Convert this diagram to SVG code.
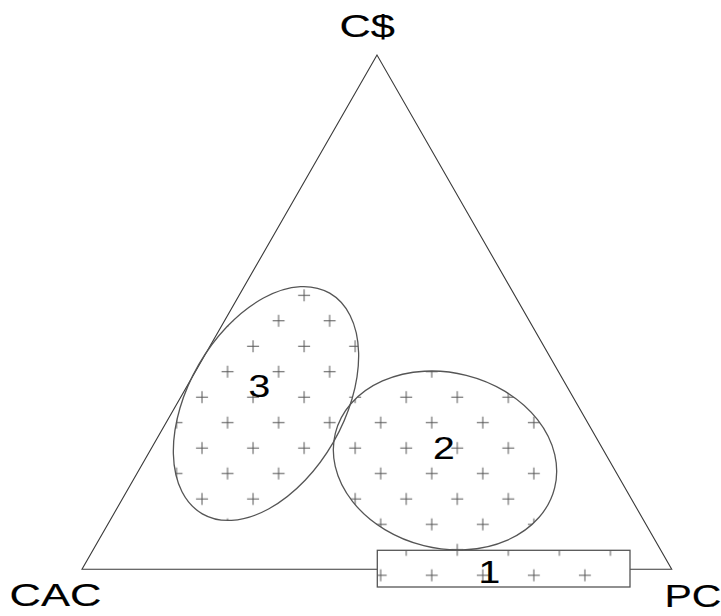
<svg xmlns="http://www.w3.org/2000/svg" width="721" height="616" viewBox="0 0 721 616">
  <style>
    .frame { fill: none; stroke: #3a3a3a; stroke-width: 1.1; }
    .outline { fill: none; stroke: #555; stroke-width: 1.3; }
    .hatch { fill: url(#plus); stroke: none; }
    .lbl { font-family: "Liberation Sans", Arial, sans-serif; font-size: 32px; fill: #000; stroke: #000; stroke-width: 0.15; }
  </style>
  <defs>
    <!-- staggered grid of plus marks, one lattice shared by every region -->
    <pattern id="plus" patternUnits="userSpaceOnUse" x="367.94" y="562.58" width="51.05" height="50.9">
      <g stroke="#555" stroke-width="1" fill="none">
        <path d="M6.76 12.72h12M12.76 6.72v12"/>
        <path d="M32.29 38.17h12M38.29 32.17v12"/>
      </g>
    </pattern>
    <clipPath id="clip-3">
      <ellipse cx="266" cy="403.5" rx="127.4" ry="77.7" transform="rotate(-60 266 403.5)"/>
    </clipPath>
    <clipPath id="clip-2">
      <ellipse cx="445" cy="460.5" rx="113" ry="87.8" transform="rotate(14 445 460.5)"/>
    </clipPath>
  </defs>

  <rect width="721" height="616" fill="#fff"/>

  <!-- ternary frame -->
  <g id="triangle">
    <polygon class="frame" points="377,55 82,569.3 671.7,569.3"/>
  </g>

  <!-- composition regions -->
  <g id="region-3">
    <rect class="hatch" x="160" y="270" width="215" height="270" clip-path="url(#clip-3)"/>
    <ellipse class="outline" cx="266" cy="403.5" rx="127.4" ry="77.7" transform="rotate(-60 266 403.5)"/>
    <text class="lbl" x="248.4" y="396.5" textLength="21.7" lengthAdjust="spacingAndGlyphs">3</text>
  </g>

  <g id="region-2">
    <rect class="hatch" x="320" y="360" width="250" height="200" clip-path="url(#clip-2)"/>
    <ellipse class="outline" cx="445" cy="460.5" rx="113" ry="87.8" transform="rotate(14 445 460.5)"/>
    <text class="lbl" x="433" y="459.3" textLength="21.7" lengthAdjust="spacingAndGlyphs">2</text>
  </g>

  <g id="region-1">
    <rect x="377.3" y="550.3" width="252.7" height="36.7" fill="#fff"/>
    <rect class="hatch" x="377.3" y="550.3" width="252.7" height="36.7"/>
    <rect class="outline" x="377.3" y="550.3" width="252.7" height="36.7"/>
    <text class="lbl" x="478.6" y="582.6" textLength="21.7" lengthAdjust="spacingAndGlyphs">1</text>
  </g>

  <!-- vertex labels -->
  <g id="vertex-labels">
    <text class="lbl" x="339.5" y="37.3" textLength="55.5" lengthAdjust="spacingAndGlyphs">C$</text>
    <text class="lbl" x="9.5" y="605.5" textLength="92" lengthAdjust="spacingAndGlyphs">CAC</text>
    <text class="lbl" x="664.5" y="606.5" textLength="57" lengthAdjust="spacingAndGlyphs">PC</text>
  </g>
</svg>
